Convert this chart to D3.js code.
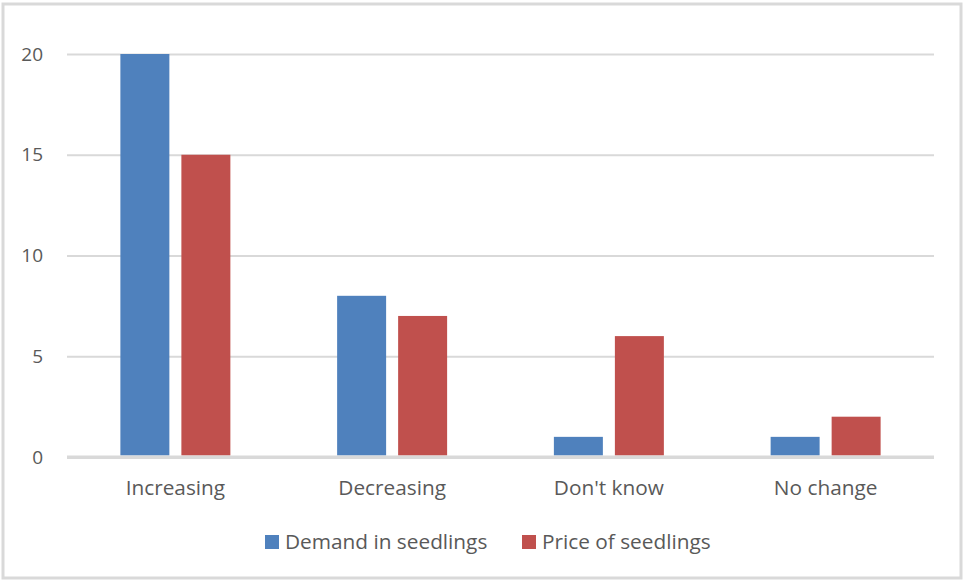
<!DOCTYPE html>
<html>
<head>
<meta charset="utf-8">
<script src="https://cdn.jsdelivr.net/npm/d3@7"></script>
<style>
  html, body { margin: 0; padding: 0; background: #fff; }
  svg { display: block; }
  text { font-family: "Open Sans", "Liberation Sans", sans-serif; fill: #595959; }
</style>
</head>
<body>
<svg id="chart" width="963" height="580"></svg>
<script>
// Survey responses: trend in seedling demand and price
const categories = ["Increasing", "Decreasing", "Don't know", "No change"];
const seriesNames = ["Demand in seedlings", "Price of seedlings"];
const demandValues = [20, 8, 1, 1];
const priceValues = [15, 7, 6, 2];
const yTicks = [0, 5, 10, 15, 20];
const colors = ["#4f81bd", "#c0504d"];

const seriesValues = [demandValues, priceValues];

const svg = d3.select("#chart");
const W = 963, H = 580;

// outer frame
svg.append("rect")
  .attr("x", 3).attr("y", 4)
  .attr("width", W - 5).attr("height", H - 6)
  .attr("fill", "#fff")
  .attr("stroke", "#d9d9d9")
  .attr("stroke-width", 3);

const plot = { left: 67, right: 934, top: 54, bottom: 457 };

const x0 = d3.scaleBand()
  .domain(categories)
  .range([plot.left, plot.right])
  .padding(0);

const x1 = d3.scaleBand()
  .domain(seriesNames)
  .range([0, x0.bandwidth()])
  .paddingInner(0.197)
  .paddingOuter(0.875);

const y = d3.scaleLinear()
  .domain([0, 20])
  .range([plot.bottom, plot.top]);

// gridlines
const yAxis = d3.axisLeft(y).tickValues(yTicks).tickSize(-(plot.right - plot.left)).tickPadding(24);
const gy = svg.append("g")
  .attr("transform", `translate(${plot.left},0)`)
  .call(yAxis);
gy.select(".domain").remove();
gy.selectAll(".tick line")
  .attr("stroke", "#d9d9d9")
  .attr("stroke-width", d => d === 0 ? 3 : 2);
gy.selectAll(".tick text")
  .style("font-size", "19px")
  .attr("fill", "#595959");

// bars
const groups = svg.append("g").selectAll("g")
  .data(categories)
  .join("g")
  .attr("transform", d => `translate(${x0(d)},0)`);

groups.selectAll("rect")
  .data((d, i) => seriesNames.map((s, j) => ({ s, j, v: seriesValues[j][i] })))
  .join("rect")
  .attr("x", d => x1(d.s))
  .attr("width", x1.bandwidth())
  .attr("y", d => y(d.v))
  .attr("height", d => y(0) - y(d.v) - 1.5)
  .attr("fill", d => colors[d.j]);

// baseline drawn over bars
svg.append("line")
  .attr("x1", plot.left).attr("x2", plot.right)
  .attr("y1", y(0)).attr("y2", y(0))
  .attr("stroke", "#d9d9d9").attr("stroke-width", 3);

// category labels
const xAxis = d3.axisBottom(x0).tickSize(0).tickPadding(23);
const gx = svg.append("g")
  .attr("transform", `translate(0,${plot.bottom})`)
  .call(xAxis);
gx.select(".domain").remove();
gx.selectAll(".tick text")
  .style("font-size", "20.8px")
  .attr("fill", "#595959");

// legend
const legendItems = [
  { name: seriesNames[0], color: colors[0], x: 265 },
  { name: seriesNames[1], color: colors[1], x: 522 }
];
const lg = svg.append("g").selectAll("g")
  .data(legendItems)
  .join("g")
  .attr("transform", d => `translate(${d.x},535)`);
lg.append("rect")
  .attr("width", 14).attr("height", 14)
  .attr("fill", d => d.color);
lg.append("text")
  .attr("x", 20).attr("y", 14)
  .style("font-size", "20.8px")
  .text(d => d.name);
</script>
</body>
</html>
